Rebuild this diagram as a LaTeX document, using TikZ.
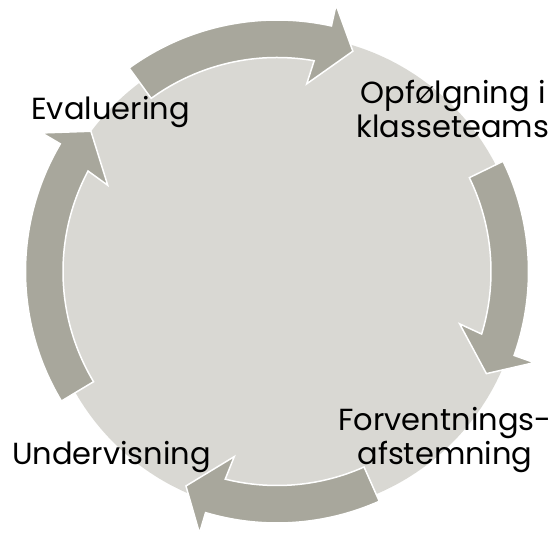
\documentclass[tikz,border=0pt]{standalone}
\usepackage{fontspec}
\setmainfont{Poppins}
\definecolor{ringgray}{RGB}{168,167,156}
\definecolor{discgray}{RGB}{217,216,211}
\tikzset{
  ringarrow/.style={fill=ringgray,draw=white,line width=1.5pt,line join=miter},
  phase/.style={font=\fontsize{30.5}{34}\selectfont,align=center,text=black}
}
% tail angle, tip angle (clockwise)
\newcommand\cyclearrow[2]{%
  \draw[ringarrow] ({#1}:251.5pt) arc[start angle=#1,end angle=#2+6.5,radius=251.5pt]
    -- ({#2+6.5}:273pt) -- ({#2}:233pt) -- ({#2+10}:190pt) -- ({#2+9}:214pt)
    arc[start angle=#2+9,end angle=#1,radius=214pt] -- cycle;}
\begin{document}
\begin{tikzpicture}[x=1pt,y=1pt]
 \useasboundingbox (0,0) rectangle (552,540);
 \fill[discgray] (283,266) circle[radius=239pt];
 \begin{scope}[shift={(277,268.5)}]
  \cyclearrow{126}{71}
  \cyclearrow{26}{-26}
  \cyclearrow{-66}{-113}
  \cyclearrow{211}{143}
 \end{scope}
 \node[phase,anchor=base] (evaluering) at (110.5,420) {Evaluering};
 \node[phase] (opfoelgning) at (453,431) {Opfølgning i\\klasseteams};
 \node[phase] (forventning) at (445,100) {Forventnings-\\afstemning};
 \node[phase,anchor=base] (undervisning) at (111.5,75) {Undervisning};
\end{tikzpicture}
\end{document}
